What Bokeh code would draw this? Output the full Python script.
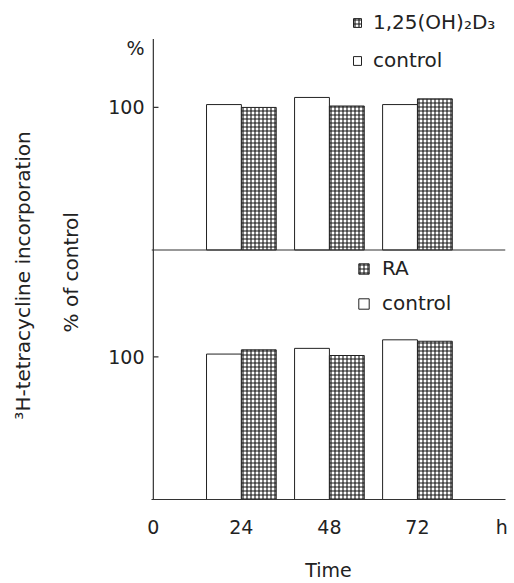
from bokeh.plotting import figure
from bokeh.models import (Range1d, LinearAxis, FixedTicker, Span, Legend,
                          LegendItem, ColumnDataSource)
from bokeh.transform import dodge
from bokeh.embed import file_html
from bokeh.resources import INLINE

# ---- data ----
hours = [24, 48, 72]
top_control = [102, 107, 102]
top_d3 = [100, 101, 106]
bottom_control = [102, 106, 112]
bottom_ra = [105, 101, 111]

x_tick_values = [0, 24, 48, 72, 95]
x_tick_labels = ["0", "24", "48", "72", "h"]
panel_offset = 175          # bottom panel height in value units (top panel baseline)
y_tick_value = 100
axis_top = 323              # where the drawn y axis line stops
unit_pos = 317              # position of the "%" unit label

FONT = "DejaVu Sans"
TXT = "#222222"
AX = "#333333"
BAR_W = 9.5
Y_END = 350
NB = "\u00a0"               # non-breaking spaces push the rotated titles downward

src = ColumnDataSource(dict(hours=hours, top_control=top_control, top_d3=top_d3,
                            bottom_control=bottom_control, bottom_ra=bottom_ra))

p = figure(width=514, height=583, output_backend="svg", toolbar_location=None,
           x_range=Range1d(-0.5, 96), y_range=Range1d(0, Y_END),
           min_border_left=151, min_border_right=9, min_border_top=0,
           min_border_bottom=84, x_axis_type=None, y_axis_type=None)
p.extra_y_ranges = {"top": Range1d(-panel_offset, Y_END - panel_offset)}
p.outline_line_color = None
p.xgrid.visible = False
p.ygrid.visible = False
p.background_fill_color = "white"
p.border_fill_color = "white"

hatch = dict(hatch_pattern="cross", hatch_scale=4, hatch_weight=1.1,
             hatch_color="#151515", fill_color="white")

# top panel
r_tc = p.vbar(x=dodge("hours", -BAR_W / 2), top="top_control", bottom=0, width=BAR_W,
              source=src, y_range_name="top", fill_color="white",
              line_color="#222222", line_width=1)
r_td = p.vbar(x=dodge("hours", BAR_W / 2), top="top_d3", bottom=0, width=BAR_W,
              source=src, y_range_name="top", line_color="#222222", line_width=1, **hatch)
# bottom panel
r_bc = p.vbar(x=dodge("hours", -BAR_W / 2), top="bottom_control", bottom=0, width=BAR_W,
              source=src, fill_color="white", line_color="#222222", line_width=1)
r_br = p.vbar(x=dodge("hours", BAR_W / 2), top="bottom_ra", bottom=0, width=BAR_W,
              source=src, line_color="#222222", line_width=1, **hatch)

# top panel baseline
p.add_layout(Span(location=0, dimension="width", y_range_name="top",
                  line_color=AX, line_width=1.2))

# y axis line and inward tick marks at 100 in both panels
p.segment(x0=[0], y0=[0], x1=[0], y1=[axis_top], line_color=AX, line_width=1.2)
p.segment(x0=[0], y0=[y_tick_value], x1=[1.4], y1=[y_tick_value],
          line_color=AX, line_width=1.2)
p.segment(x0=[0], y0=[y_tick_value], x1=[1.4], y1=[y_tick_value],
          line_color=AX, line_width=1.2, y_range_name="top")

# x axis
xa = LinearAxis(ticker=FixedTicker(ticks=x_tick_values),
                major_label_overrides={v: l for v, l in zip(x_tick_values, x_tick_labels)},
                axis_label="Time")
xa.major_tick_out = 0
xa.major_tick_in = 0
xa.minor_tick_out = 0
xa.minor_tick_in = 0
xa.major_label_standoff = 16
xa.axis_label_standoff = 18
xa.axis_line_color = AX
xa.axis_line_width = 1.2
xa.major_label_text_font = FONT
xa.major_label_text_font_size = "19px"
xa.major_label_text_color = TXT
xa.axis_label_text_font = FONT
xa.axis_label_text_font_size = "19px"
xa.axis_label_text_font_style = "normal"
xa.axis_label_text_color = TXT
p.add_layout(xa, "below")

# y axis labels (both panels share one line); "%" unit at the top
yticks = [y_tick_value, y_tick_value + panel_offset, unit_pos]
overrides = {y_tick_value: str(y_tick_value),
             y_tick_value + panel_offset: str(y_tick_value),
             unit_pos: "%"}
ya = LinearAxis(ticker=FixedTicker(ticks=yticks), major_label_overrides=overrides,
                axis_label="% of control" + NB * 7)
ya.axis_line_color = None
ya.major_tick_line_color = None
ya.major_tick_out = 0
ya.major_tick_in = 0
ya.minor_tick_out = 0
ya.minor_tick_in = 0
ya.major_label_standoff = 7
ya.axis_label_standoff = 22
ya.major_label_text_font = FONT
ya.major_label_text_font_size = "19px"
ya.major_label_text_color = TXT
ya.axis_label_text_font = FONT
ya.axis_label_text_font_size = "20px"
ya.axis_label_text_font_style = "normal"
ya.axis_label_text_color = TXT
p.add_layout(ya, "left")

ya2 = LinearAxis(ticker=FixedTicker(ticks=[]),
                 axis_label="³H-tetracycline incorporation" + NB * 8)
ya2.axis_line_color = None
ya2.major_tick_out = 0
ya2.major_tick_in = 0
ya2.minor_tick_out = 0
ya2.minor_tick_in = 0
ya2.major_label_standoff = 0
ya2.axis_label_standoff = 22
ya2.axis_label_text_font = FONT
ya2.axis_label_text_font_size = "20px"
ya2.axis_label_text_font_style = "normal"
ya2.axis_label_text_color = TXT
p.add_layout(ya2, "left")

# legends
common = dict(padding=0, margin=0, border_line_color=None, background_fill_alpha=0,
              label_text_font=FONT, label_text_font_size="20px", label_text_color=TXT,
              label_height=24)
leg_top = Legend(items=[LegendItem(label="1,25(OH)₂D₃", renderers=[r_td]),
                        LegendItem(label="control", renderers=[r_tc])],
                 location=(201, 427), glyph_width=10, glyph_height=11,
                 label_standoff=11, spacing=14, **common)
leg_bot = Legend(items=[LegendItem(label="RA", renderers=[r_br]),
                        LegendItem(label="control", renderers=[r_bc])],
                 location=(206, 184), glyph_width=13, glyph_height=13,
                 label_standoff=12, spacing=11, **common)
p.add_layout(leg_top)
p.add_layout(leg_bot)

open("out.html", "w").write(file_html(p, INLINE))
